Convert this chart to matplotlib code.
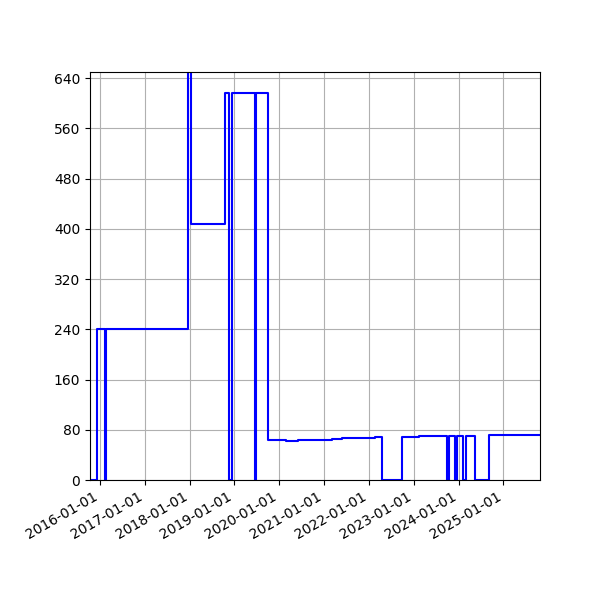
import numpy as np
import pandas as pd
import matplotlib
matplotlib.use("Agg")
import matplotlib.pyplot as plt
import matplotlib.dates as mdates

# step changes: date the value starts, value
dates = ["2015-10-12", "2015-12-10", "2016-02-10", "2016-02-18", "2017-12-20",
         "2018-01-12", "2018-10-16", "2018-11-20", "2018-12-12", "2019-06-17",
         "2019-06-25", "2019-10-01", "2020-02-25", "2020-06-01", "2021-03-08",
         "2021-05-27", "2022-02-20", "2022-04-18", "2022-09-26", "2023-02-13",
         "2023-09-30", "2023-10-16", "2023-12-04", "2023-12-20", "2024-02-06",
         "2024-03-01", "2024-05-16", "2024-09-06", "2025-10-26"]
values = [0, 240, 0, 240, 700,
          408, 617, 0, 617, 0,
          617, 63, 62, 64, 65,
          67, 68, 0, 69, 70,
          0, 70, 0, 70, 0,
          70, 0, 72, 72]

x = pd.to_datetime(dates)

fig = plt.figure(figsize=(6, 6), dpi=100)
ax = fig.add_axes([0.15, 0.2, 0.75, 0.68])
ax.step(x, values, where="post", color="blue")
# brief spike at the end of 2017 goes back down to 408
ax.set_xlim(x[0], x[-1])
ax.set_ylim(0, 650)
ax.set_yticks(np.arange(0, 641, 80))
ax.xaxis.set_major_locator(mdates.YearLocator())
ax.xaxis.set_major_formatter(mdates.DateFormatter("%Y-%m-%d"))
ax.grid(True)
fig.autofmt_xdate()
fig.savefig("out.png")
